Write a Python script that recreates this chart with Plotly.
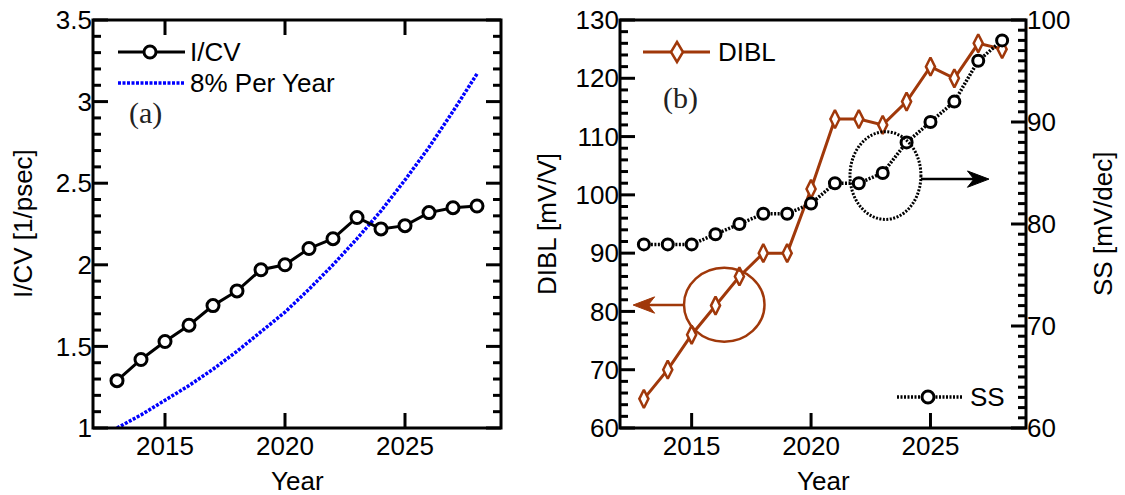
import plotly.graph_objects as go

# ---- data -------------------------------------------------------------
years = list(range(2013, 2029))
icv = [1.29, 1.42, 1.53, 1.63, 1.75, 1.84, 1.97, 2.00,
       2.10, 2.16, 2.29, 2.22, 2.24, 2.32, 2.35, 2.36]
trend_8pct = [1.00, 1.08, 1.17, 1.26, 1.36, 1.47, 1.59, 1.71,
              1.85, 2.00, 2.16, 2.33, 2.52, 2.72, 2.94, 3.17]
dibl = [65, 70, 76, 81, 86, 90, 90, 101,
        113, 113, 112, 116, 122, 120, 126, 125]
ss = [78, 78, 78, 79, 80, 81, 81, 82,
      84, 84, 85, 88, 90, 92, 96, 98]
year_ticks = [2015, 2020, 2025]
year_range = [2012, 2029]
icv_range, icv_step, icv_minor = [1, 3.5], 0.5, 0.1
dibl_range, dibl_step, dibl_minor = [60, 130], 10, 2
ss_range, ss_step, ss_minor = [60, 100], 10, 1

# ---- styling ----------------------------------------------------------
W, H = 1125, 495
SANS = "Liberation Sans, Arial, Helvetica, sans-serif"
SERIF = "Liberation Serif, Times New Roman, serif"
FS = 26
BROWN = "#A0380A"
BLUE = "#0000FF"
BLACK = "#000000"
SS_DASH = "2px,1.5px"
BLUE_DASH = "3px,1.5px"
MAJOR_LEN, MINOR_LEN, TICK_W = 15, 8, 3


def px_x(px):
    return px / W


def px_y(py):
    return 1 - py / H


PA = (93, 501)      # panel (a) left/right, px
PB = (620, 1026)    # panel (b) left/right, px
PY = (20, 428)      # both panels top/bottom, px
dom_a = [px_x(PA[0]), px_x(PA[1])]
dom_b = [px_x(PB[0]), px_x(PB[1])]
dom_y = [px_y(PY[1]), px_y(PY[0])]

fig = go.Figure()

# (a) I/CV against an 8 %/year trend
fig.add_trace(go.Scatter(
    x=years, y=trend_8pct, mode="lines", name="8% Per Year",
    line=dict(color=BLUE, width=3.5, dash=BLUE_DASH),
    xaxis="x", yaxis="y", showlegend=False))
fig.add_trace(go.Scatter(
    x=years, y=icv, mode="lines+markers", name="I/CV",
    line=dict(color=BLACK, width=3),
    marker=dict(symbol="circle", size=12, color="white",
                line=dict(color=BLACK, width=3)),
    xaxis="x", yaxis="y", showlegend=False))

# (b) DIBL (left axis) and SS (right axis)
fig.add_trace(go.Scatter(
    x=years, y=dibl, mode="lines+markers", name="DIBL",
    line=dict(color=BROWN, width=3),
    marker=dict(symbol="diamond-tall", size=13, color="white",
                line=dict(color=BROWN, width=2.5)),
    xaxis="x2", yaxis="y2", showlegend=False))
fig.add_trace(go.Scatter(
    x=years, y=ss, mode="lines+markers", name="SS",
    line=dict(color=BLACK, width=3.5, dash=SS_DASH),
    marker=dict(symbol="circle", size=11, color="white",
                line=dict(color=BLACK, width=3)),
    xaxis="x2", yaxis="y3", showlegend=False))

tickfont = dict(family=SANS, size=FS, color=BLACK)


def year_axis(domain, anchor):
    return dict(
        domain=domain, anchor=anchor, range=year_range,
        tickmode="array", tickvals=year_ticks, ticks="",
        showline=False, showgrid=False, zeroline=False,
        tickfont=tickfont, automargin=False)


def value_axis(rng, dtick, **kw):
    d = dict(
        domain=dom_y, range=rng, tickmode="linear", tick0=rng[0],
        dtick=dtick, ticks="", showline=False, showgrid=False,
        zeroline=False, tickfont=tickfont, automargin=False)
    d.update(kw)
    return d


fig.update_layout(
    width=W, height=H,
    margin=dict(l=0, r=0, t=0, b=0),
    paper_bgcolor="white", plot_bgcolor="rgba(0,0,0,0)",
    font=dict(family=SANS, size=FS, color=BLACK),
    showlegend=False,
    xaxis=year_axis(dom_a, "y"),
    yaxis=value_axis(icv_range, icv_step, anchor="x"),
    xaxis2=year_axis(dom_b, "y2"),
    yaxis2=value_axis(dibl_range, dibl_step, anchor="x2", side="left"),
    yaxis3=value_axis(ss_range, ss_step, anchor="x2", side="right",
                      overlaying="y2"),
)

shapes = []
annotations = []


# ---- box frames and inward tick marks (paper coordinates) -------------
def steps(lo, hi, step):
    n = int(round((hi - lo) / step))
    return [round(lo + i * step, 6) for i in range(n + 1)]


def to_dom(v, rng, dom):
    return dom[0] + (v - rng[0]) / (rng[1] - rng[0]) * (dom[1] - dom[0])


def seg(x0, x1, y0, y1, width=TICK_W):
    shapes.append(dict(type="line", xref="paper", yref="paper",
                       x0=x0, x1=x1, y0=y0, y1=y1,
                       line=dict(color=BLACK, width=width)))


def frame(dom_x):
    shapes.append(dict(type="rect", xref="paper", yref="paper",
                       x0=dom_x[0], x1=dom_x[1], y0=dom_y[0], y1=dom_y[1],
                       line=dict(color=BLACK, width=3)))


def x_ticks(dom_x, top=False):
    dy = MAJOR_LEN / H
    for v in year_ticks:
        x = to_dom(v, year_range, dom_x)
        seg(x, x, dom_y[0], dom_y[0] + dy)
        if top:
            seg(x, x, dom_y[1] - dy, dom_y[1])


def y_ticks(dom_x, rng, step, minor, sides):
    majors = steps(rng[0], rng[1], step)
    minors = [v for v in steps(rng[0], rng[1], minor)
              if min(abs(v - m) for m in majors) > 1e-6]
    for vals, length in ((majors, MAJOR_LEN), (minors, MINOR_LEN)):
        dx = length / W
        for v in vals:
            y = to_dom(v, rng, dom_y)
            for side in sides:
                if side == "left":
                    seg(dom_x[0], dom_x[0] + dx, y, y)
                else:
                    seg(dom_x[1] - dx, dom_x[1], y, y)


frame(dom_a)
x_ticks(dom_a, top=True)
y_ticks(dom_a, icv_range, icv_step, icv_minor, ("left", "right"))
frame(dom_b)
x_ticks(dom_b)
y_ticks(dom_b, dibl_range, dibl_step, dibl_minor, ("left",))
y_ticks(dom_b, ss_range, ss_step, ss_minor, ("right",))


# ---- texts ----------------------------------------------------------
def text_at(x, y, text, angle=0, family=SANS, size=FS, color=BLACK):
    annotations.append(dict(xref="paper", yref="paper",
                            x=px_x(x), y=px_y(y), text=text,
                            textangle=angle, showarrow=False,
                            xanchor="center", yanchor="middle",
                            font=dict(family=family, size=size,
                                      color=color)))


text_at(297, 481, "Year")
text_at(823, 481, "Year")
text_at(23, 224, "I/CV [1/psec]", angle=-90)
text_at(547, 224, "DIBL [mV/V]", angle=-90)
text_at(1103, 224, "SS [mV/dec]", angle=-90)
text_at(145, 113, "(a)", family=SERIF, size=30, color="#222222")
text_at(681, 98, "(b)", family=SERIF, size=30, color="#222222")


# ---- circled groups with arrows to their axis -------------------------
def arrow(yref, x_tail, x_tip, y, color, head_len, head_half):
    """Horizontal arrow drawn as a shaft plus a barbed head."""
    sgn = 1 if x_tip > x_tail else -1
    base = x_tip - sgn * head_len
    notch = x_tip - sgn * head_len * 0.7
    shapes.append(dict(type="line", xref="x2", yref=yref,
                       x0=x_tail, x1=notch, y0=y, y1=y,
                       line=dict(color=color, width=2.5)))
    shapes.append(dict(type="path", xref="x2", yref=yref,
                       path="M {},{} L {},{} L {},{} L {},{} Z".format(
                           x_tip, y, base, y + head_half, notch, y,
                           base, y - head_half),
                       fillcolor=color, line=dict(color=color, width=1)))


shapes.append(dict(type="circle", xref="x2", yref="y2",
                   x0=2014.68, x1=2018.05, y0=74.8, y1=87.5,
                   line=dict(color=BROWN, width=2.5)))
arrow("y2", 2014.68, 2012.55, 81.1, BROWN, 0.9, 1.4)
shapes.append(dict(type="circle", xref="x2", yref="y3",
                   x0=2021.63, x1=2024.6, y0=80.45, y1=89.05,
                   line=dict(color=BLACK, width=3, dash=SS_DASH)))
arrow("y3", 2024.6, 2027.45, 84.4, BLACK, 0.9, 0.8)


# ---- legend entries: sample line, marker and label --------------------
def legend_entry(x0, x1, xm, y, text, tx, line, marker=None):
    yy = px_y(y)
    shapes.append(dict(type="line", xref="paper", yref="paper",
                       x0=px_x(x0), x1=px_x(x1), y0=yy, y1=yy, line=line))
    if marker == "circle":
        shapes.append(dict(type="circle", xref="paper", yref="paper",
                           x0=px_x(xm - 6), x1=px_x(xm + 6),
                           y0=px_y(y + 6), y1=px_y(y - 6),
                           fillcolor="white",
                           line=dict(color=BLACK, width=3)))
    elif marker == "diamond":
        path = "M {:.5f},{:.5f} L {:.5f},{:.5f} L {:.5f},{:.5f} " \
               "L {:.5f},{:.5f} Z".format(
                   px_x(xm), px_y(y - 10), px_x(xm + 6), yy,
                   px_x(xm), px_y(y + 10), px_x(xm - 6), yy)
        shapes.append(dict(type="path", xref="paper", yref="paper",
                           path=path, fillcolor="white",
                           line=dict(color=BROWN, width=2.5)))
    annotations.append(dict(xref="paper", yref="paper", x=px_x(tx), y=yy,
                            xanchor="left", yanchor="middle", text=text,
                            showarrow=False,
                            font=dict(family=SANS, size=FS, color=BLACK)))


legend_entry(118, 185, 150, 52, "I/CV", 188,
             dict(color=BLACK, width=3), "circle")
legend_entry(118, 185, None, 83, "8% Per Year", 188,
             dict(color=BLUE, width=3.5, dash=BLUE_DASH))
legend_entry(643, 710, 677, 52, "DIBL", 716,
             dict(color=BROWN, width=3), "diamond")
legend_entry(897, 962, 928, 397, "SS", 968,
             dict(color=BLACK, width=3.5, dash=SS_DASH), "circle")

fig.update_layout(shapes=shapes, annotations=annotations)

fig.write_html("out.html")
